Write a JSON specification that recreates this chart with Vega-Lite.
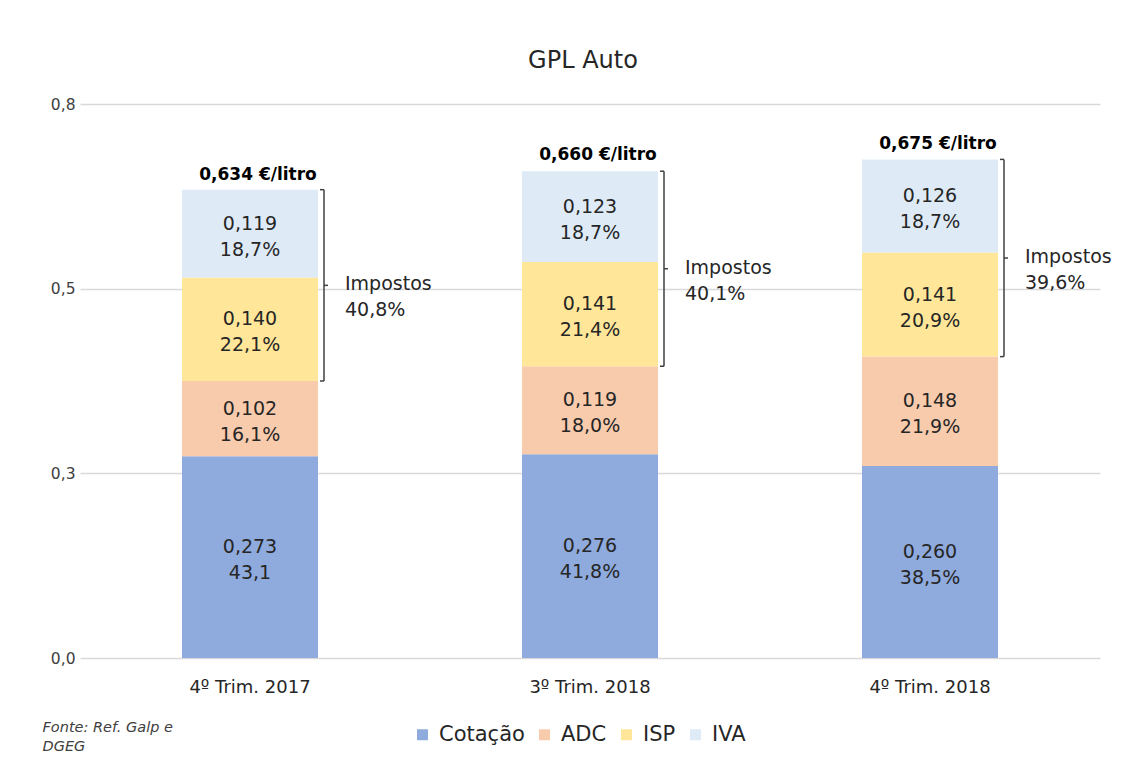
{
  "$schema": "https://vega.github.io/schema/vega-lite/v6.json",
  "autosize": {"type": "none"},
  "width": 1020,
  "height": 554,
  "padding": {"left": 80, "top": 104, "right": 32, "bottom": 107},
  "background": "white",
  "title": {"text": "GPL Auto", "fontSize": 24, "font": "DejaVu Sans", "fontWeight": "normal", "color": "#262626", "anchor": "middle", "offset": 24, "dx": -7},
  "datasets": {
    "parts": [
      {"quarter": "4º Trim. 2017", "component": "Cotação", "value": 0.273, "label": "0,273\n43,1"},
      {"quarter": "4º Trim. 2017", "component": "ADC", "value": 0.102, "label": "0,102\n16,1%"},
      {"quarter": "4º Trim. 2017", "component": "ISP", "value": 0.140, "label": "0,140\n22,1%"},
      {"quarter": "4º Trim. 2017", "component": "IVA", "value": 0.119, "label": "0,119\n18,7%"},
      {"quarter": "3º Trim. 2018", "component": "Cotação", "value": 0.276, "label": "0,276\n41,8%"},
      {"quarter": "3º Trim. 2018", "component": "ADC", "value": 0.119, "label": "0,119\n18,0%"},
      {"quarter": "3º Trim. 2018", "component": "ISP", "value": 0.141, "label": "0,141\n21,4%"},
      {"quarter": "3º Trim. 2018", "component": "IVA", "value": 0.123, "label": "0,123\n18,7%"},
      {"quarter": "4º Trim. 2018", "component": "Cotação", "value": 0.260, "label": "0,260\n38,5%"},
      {"quarter": "4º Trim. 2018", "component": "ADC", "value": 0.148, "label": "0,148\n21,9%"},
      {"quarter": "4º Trim. 2018", "component": "ISP", "value": 0.141, "label": "0,141\n20,9%"},
      {"quarter": "4º Trim. 2018", "component": "IVA", "value": 0.126, "label": "0,126\n18,7%"}
    ],
    "totals": [
      {"quarter": "4º Trim. 2017", "total": 0.634, "totalLabel": "0,634 €/litro", "taxLabel": "Impostos\n40,8%"},
      {"quarter": "3º Trim. 2018", "total": 0.660, "totalLabel": "0,660 €/litro", "taxLabel": "Impostos\n40,1%"},
      {"quarter": "4º Trim. 2018", "total": 0.675, "totalLabel": "0,675 €/litro", "taxLabel": "Impostos\n39,6%"}
    ]
  },
  "encoding": {
    "x": {
      "field": "quarter", "type": "nominal", "sort": null,
      "scale": {"domain": ["4º Trim. 2017", "3º Trim. 2018", "4º Trim. 2018"], "paddingInner": 0.6, "paddingOuter": 0.3},
      "axis": {
        "title": ["Fonte: Ref. Galp e", "DGEG"],
        "titleFont": "DejaVu Sans", "titleFontSize": 14.5, "titleFontStyle": "italic", "titleFontWeight": "normal",
        "titleColor": "#404040", "titleAlign": "left", "titleAnchor": "start", "titleBaseline": "middle",
        "titleX": -38, "titleY": 69, "titleLineHeight": 19,
        "labelAngle": 0, "labelFont": "DejaVu Sans", "labelFontSize": 18, "labelColor": "#262626", "labelPadding": 20,
        "ticks": false, "domain": false, "grid": false
      }
    }
  },
  "layer": [
    {
      "data": {"name": "parts"},
      "transform": [
        {"calculate": "indexof(['Cotação','ADC','ISP','IVA'], datum.component)", "as": "ord"},
        {"stack": "value", "groupby": ["quarter"], "sort": [{"field": "ord", "order": "ascending"}], "as": ["v0", "v1"]}
      ],
      "mark": {"type": "bar"},
      "encoding": {
        "y": {
          "field": "v1", "type": "quantitative",
          "scale": {"domain": [0, 0.75], "nice": false, "zero": true},
          "axis": {"title": null, "values": [0, 0.25, 0.5, 0.75], "format": ".1f"}
        },
        "y2": {"field": "v0"},
        "color": {
          "field": "component", "type": "nominal",
          "scale": {"domain": ["Cotação", "ADC", "ISP", "IVA"], "range": ["#8FAADC", "#F8CBAD", "#FFE699", "#DEEBF7"]},
          "legend": {
            "title": null, "orient": "none", "direction": "horizontal", "legendX": 332, "legendY": 620,
            "symbolType": "square", "symbolSize": 121, "symbolStrokeWidth": 0,
            "labelFont": "DejaVu Sans", "labelFontSize": 21, "labelColor": "#262626", "labelOffset": 6, "columnPadding": 9
          }
        }
      }
    },
    {
      "data": {"name": "parts"},
      "transform": [
        {"calculate": "indexof(['Cotação','ADC','ISP','IVA'], datum.component)", "as": "ord"},
        {"stack": "value", "groupby": ["quarter"], "sort": [{"field": "ord", "order": "ascending"}], "as": ["v0", "v1"]},
        {"calculate": "(datum.v0 + datum.v1) / 2", "as": "mid"}
      ],
      "mark": {"type": "text", "font": "DejaVu Sans", "fontSize": 19, "color": "#262626", "lineBreak": "\n", "lineHeight": 26, "baseline": "middle", "dy": -10},
      "encoding": {
        "y": {"field": "mid", "type": "quantitative"},
        "text": {"field": "label"}
      }
    },
    {
      "data": {"name": "totals"},
      "mark": {"type": "text", "font": "DejaVu Sans", "fontSize": 17, "fontWeight": "bold", "color": "#000000", "baseline": "middle", "dy": -15, "dx": 8},
      "encoding": {
        "y": {"field": "total", "type": "quantitative"},
        "text": {"field": "totalLabel"}
      }
    },
    {
      "data": {"name": "parts"},
      "transform": [
        {"calculate": "indexof(['Cotação','ADC','ISP','IVA'], datum.component)", "as": "ord"},
        {"stack": "value", "groupby": ["quarter"], "sort": [{"field": "ord", "order": "ascending"}], "as": ["v0", "v1"]},
        {"filter": "datum.component === 'ISP' || datum.component === 'IVA'"},
        {"aggregate": [{"op": "min", "field": "v0", "as": "lo"}, {"op": "max", "field": "v1", "as": "hi"}], "groupby": ["quarter"]},
        {"calculate": "(datum.lo + datum.hi) / 2", "as": "mid"},
        {"lookup": "quarter", "from": {"data": {"name": "totals"}, "key": "quarter", "fields": ["taxLabel"]}}
      ],
      "layer": [
        {
          "mark": {"type": "rule", "color": "#404040", "strokeWidth": 1.5, "xOffset": 6},
          "encoding": {
            "x": {"field": "quarter", "type": "nominal", "bandPosition": 1},
            "y": {"field": "lo", "type": "quantitative"},
            "y2": {"field": "hi"}
          }
        },
        {
          "transform": [{"fold": ["lo", "hi"], "as": ["k", "yv"]}],
          "mark": {"type": "rule", "color": "#404040", "strokeWidth": 1.5, "xOffset": 2, "x2Offset": 6},
          "encoding": {
            "x": {"field": "quarter", "type": "nominal", "bandPosition": 1},
            "x2": {"field": "quarter", "bandPosition": 1},
            "y": {"field": "yv", "type": "quantitative"}
          }
        },
        {
          "mark": {"type": "rule", "color": "#404040", "strokeWidth": 1.5, "xOffset": 6, "x2Offset": 10},
          "encoding": {
            "x": {"field": "quarter", "type": "nominal", "bandPosition": 1},
            "x2": {"field": "quarter", "bandPosition": 1},
            "y": {"field": "mid", "type": "quantitative"}
          }
        },
        {
          "mark": {"type": "text", "font": "DejaVu Sans", "fontSize": 19, "color": "#262626", "lineBreak": "\n", "lineHeight": 26, "align": "left", "baseline": "middle", "xOffset": 27, "dy": -1},
          "encoding": {
            "x": {"field": "quarter", "type": "nominal", "bandPosition": 1},
            "y": {"field": "mid", "type": "quantitative"},
            "text": {"field": "taxLabel"}
          }
        }
      ]
    }
  ],
  "config": {
    "locale": {"number": {"decimal": ",", "thousands": ".", "grouping": [3], "currency": ["", " €"]}},
    "view": {"stroke": null},
    "font": "DejaVu Sans",
    "axisY": {
      "labelFont": "DejaVu Sans", "labelFontSize": 15.5, "labelColor": "#404040", "labelPadding": 5,
      "ticks": false, "domain": false, "grid": true, "gridColor": "#d9d9d9", "gridWidth": 1.5
    }
  }
}
